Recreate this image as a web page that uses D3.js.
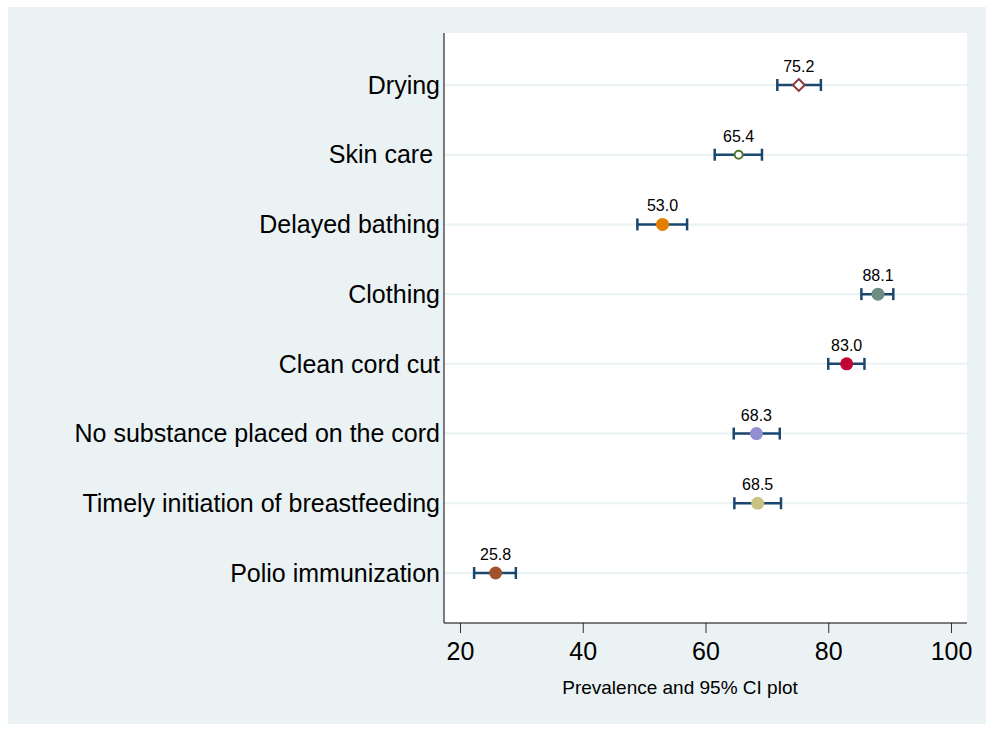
<!DOCTYPE html>
<html>
<head>
<meta charset="utf-8">
<script src="https://cdn.jsdelivr.net/npm/d3@7"></script>
<style>
  body { margin: 0; background: white; }
  text { font-family: Arial, "Liberation Sans", sans-serif; }
</style>
</head>
<body>
<div id="container"></div>
<script>
let w = 986;
let h = 730;

// DATA
let categories = ["Drying", "Skin care ", "Delayed bathing", "Clothing", "Clean cord cut",
  "No substance placed on the cord", "Timely initiation of breastfeeding", "Polio immunization"];
let prevalence = [75.2, 65.4, 53.0, 88.1, 83.0, 68.3, 68.5, 25.8];
let ciLow  = [71.7, 61.5, 48.9, 85.4, 80.0, 64.6, 64.7, 22.3];
let ciHigh = [78.8, 69.2, 57.0, 90.6, 85.9, 72.1, 72.3, 29.1];
let markerColors = ["#90353b", "#55752f", "#e37e00", "#6e8e84", "#c10534", "#938dd2", "#cac27e", "#a0522d"];
let markerShapes = ["diamondHollow", "circleHollow", "circle", "circle", "circle", "circle", "circle", "circle"];
let xTicks = [20, 40, 60, 80, 100];

let plotLeft = 444, plotRight = 967, plotTop = 33, plotBottom = 623;

let viz = d3.select("#container").append("svg")
    .attr("width", w)
    .attr("height", h)
;

// outer background
viz.append("rect")
    .attr("x", 8).attr("y", 7)
    .attr("width", 978).attr("height", 717)
    .attr("fill", "#eaf2f3")
;
// plot region
viz.append("rect")
    .attr("x", plotLeft).attr("y", plotTop)
    .attr("width", plotRight - plotLeft).attr("height", plotBottom - plotTop)
    .attr("fill", "white")
;

let xScale = d3.scaleLinear().domain([20, 100]).range([460, 951]);
let yScale = d3.scalePoint().domain(categories).range([85, 573]);

// grid lines
viz.selectAll(".grid").data(categories).enter()
  .append("line")
    .attr("class", "grid")
    .attr("x1", plotLeft).attr("x2", plotRight)
    .attr("y1", d => yScale(d)).attr("y2", d => yScale(d))
    .attr("stroke", "#eaf2f3")
    .attr("stroke-width", 2)
;

// x axis
let xAxis = d3.axisBottom(xScale).tickValues(xTicks).tickSize(10).tickPadding(9);
let xg = viz.append("g")
    .attr("transform", "translate(0," + plotBottom + ")")
    .call(xAxis);
xg.select(".domain").remove();
xg.append("line")
    .attr("x1", plotLeft).attr("x2", plotRight)
    .attr("stroke", "black").attr("stroke-width", 1);
xg.selectAll(".tick line").attr("stroke", "#333");
xg.selectAll(".tick text")
    .attr("font-size", 25)
    .attr("fill", "black")
    .attr("font-family", "Arial, 'Liberation Sans', sans-serif");

// y axis line
viz.append("line")
    .attr("x1", plotLeft).attr("x2", plotLeft)
    .attr("y1", plotTop).attr("y2", plotBottom)
    .attr("stroke", "black");

// category labels
viz.selectAll(".ylab").data(categories).enter()
  .append("text")
    .attr("class", "ylab")
    .attr("x", 440)
    .attr("y", d => yScale(d))
    .attr("dy", "0.35em")
    .attr("text-anchor", "end")
    .attr("font-size", 25)
    .style("white-space", "pre")
    .text(d => d)
;

// axis title
viz.append("text")
    .attr("x", 680)
    .attr("y", 694)
    .attr("text-anchor", "middle")
    .attr("font-size", 19)
    .text("Prevalence and 95% CI plot");

// CI bars
let ci = viz.selectAll(".ci").data(categories).enter().append("g").attr("class", "ci");
ci.append("line")
    .attr("x1", (d, i) => xScale(ciLow[i]))
    .attr("x2", (d, i) => xScale(ciHigh[i]))
    .attr("y1", d => yScale(d)).attr("y2", d => yScale(d))
    .attr("stroke", "#1a476f").attr("stroke-width", 2.5);
ci.append("line")
    .attr("x1", (d, i) => xScale(ciLow[i])).attr("x2", (d, i) => xScale(ciLow[i]))
    .attr("y1", d => yScale(d) - 6).attr("y2", d => yScale(d) + 6)
    .attr("stroke", "#1a476f").attr("stroke-width", 2.5);
ci.append("line")
    .attr("x1", (d, i) => xScale(ciHigh[i])).attr("x2", (d, i) => xScale(ciHigh[i]))
    .attr("y1", d => yScale(d) - 6).attr("y2", d => yScale(d) + 6)
    .attr("stroke", "#1a476f").attr("stroke-width", 2.5);

// markers
categories.forEach((c, i) => {
  let cx = xScale(prevalence[i]);
  let cy = yScale(c);
  if (markerShapes[i] == "diamondHollow") {
    viz.append("path")
      .attr("d", d3.symbol().type(d3.symbolDiamond2).size(90)())
      .attr("transform", "translate(" + cx + "," + cy + ")")
      .attr("fill", "white")
      .attr("stroke", markerColors[i])
      .attr("stroke-width", 2);
  } else if (markerShapes[i] == "circleHollow") {
    viz.append("circle")
      .attr("cx", cx).attr("cy", cy).attr("r", 4)
      .attr("fill", "white")
      .attr("stroke", markerColors[i])
      .attr("stroke-width", 2);
  } else {
    viz.append("circle")
      .attr("cx", cx).attr("cy", cy).attr("r", 6.5)
      .attr("fill", markerColors[i]);
  }
});

// value labels
viz.selectAll(".vlab").data(categories).enter()
  .append("text")
    .attr("class", "vlab")
    .attr("x", (d, i) => xScale(prevalence[i]))
    .attr("y", d => yScale(d) - 13)
    .attr("text-anchor", "middle")
    .attr("font-size", 16)
    .text((d, i) => prevalence[i].toFixed(1))
;
</script>
</body>
</html>
